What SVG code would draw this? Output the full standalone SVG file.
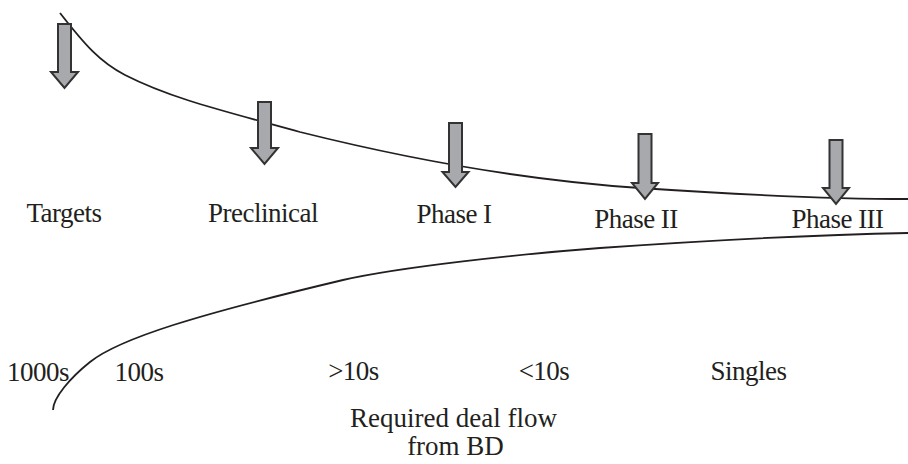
<svg xmlns="http://www.w3.org/2000/svg" width="908" height="464" viewBox="0 0 908 464">
<style>
.curve{fill:none;stroke:#231f20;stroke-width:1.8}
.arrow{fill:#a7a9ac;stroke:#333;stroke-width:2;stroke-linejoin:miter}
text{font-family:"Liberation Serif","Times New Roman",serif;font-size:27px;letter-spacing:-0.5px;fill:#231f20;text-anchor:middle}
text.wide{letter-spacing:0}
</style>
<rect width="908" height="464" fill="#fff"/>
<g id="connectors">
<path class="curve" d="M60,13 C85,45 100,62 125,75 C170,98 220,110 300,132 C400,157 520,180 640,188 C760,196 850,199 908,199"/>
<path class="curve" d="M53,410 C53,398 70,378 90,362 C120,338 200,314 343,280 C400,267 520,254 600,248 C700,241 800,235 908,233"/>
</g>
<g id="arrow-targets"><polygon class="arrow" points="58,24 71,24 71,72 78,72 64.5,88 51,72 58,72"/></g>
<g id="arrow-preclinical"><polygon class="arrow" points="258,102 271,102 271,148 278,148 264.5,164 251,148 258,148"/></g>
<g id="arrow-phase1"><polygon class="arrow" points="449,123 462,123 462,172 468.5,172 455.5,187 442.5,172 449,172"/></g>
<g id="arrow-phase2"><polygon class="arrow" points="638.5,134 651.5,134 651.5,183 658,183 645,199 632,183 638.5,183"/></g>
<g id="arrow-phase3"><polygon class="arrow" points="829.5,140 842.5,140 842.5,188 849,188 836,204 823,188 829.5,188"/></g>
<g id="label-targets"><text x="64" y="222">Targets</text></g>
<g id="label-preclinical"><text x="263" y="222">Preclinical</text></g>
<g id="label-phase1"><text x="454" y="223">Phase I</text></g>
<g id="label-phase2"><text x="636" y="228">Phase II</text></g>
<g id="label-phase3"><text x="837.5" y="228">Phase III</text></g>
<g id="label-1000s"><text x="38" y="381">1000s</text></g>
<g id="label-100s"><text x="139" y="381">100s</text></g>
<g id="label-gt10s"><text x="353.5" y="380">&gt;10s</text></g>
<g id="label-lt10s"><text x="544" y="380">&lt;10s</text></g>
<g id="label-singles"><text x="748.5" y="380">Singles</text></g>
<g id="label-dealflow"><text class="wide" x="453.5" y="427">Required deal flow</text><text class="wide" x="455.5" y="455">from BD</text></g>
</svg>
